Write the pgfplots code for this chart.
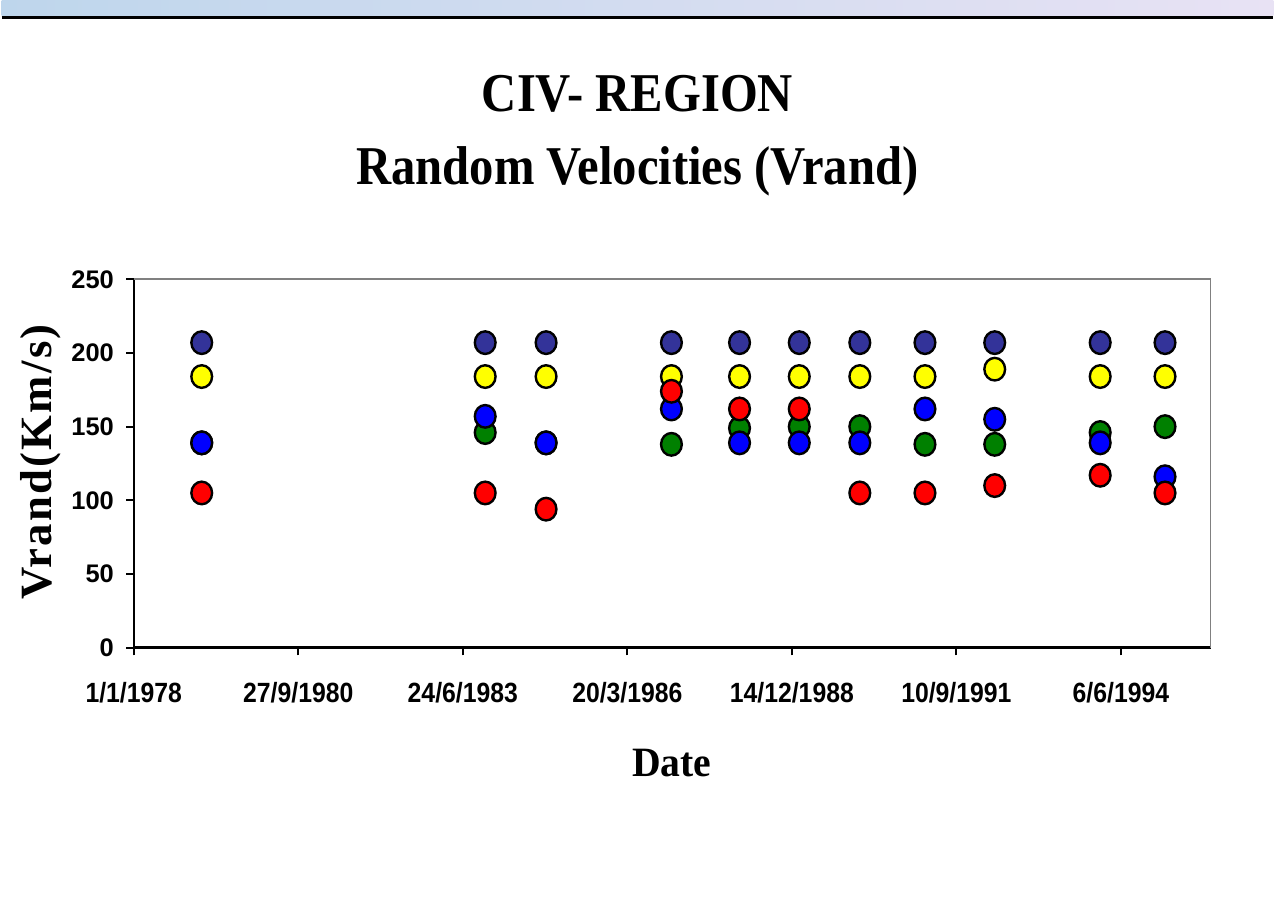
\documentclass[border=0pt]{standalone}
\usepackage{fontspec}
\setmainfont{Liberation Serif}
\newfontfamily\tickfont{Liberation Sans}
\newfontfamily\labfont{Liberation Serif}[LetterSpace=5]
\usepackage{pgfplots}
\pgfplotsset{compat=1.18}
\definecolor{navy}{HTML}{333399}
\definecolor{yel}{HTML}{FFFF00}
\definecolor{grn}{HTML}{008000}
\definecolor{blu}{HTML}{0000FF}
\definecolor{rd}{HTML}{FF0000}
\definecolor{bandL}{HTML}{BED6EC}
\definecolor{bandR}{HTML}{E8E2F4}
\definecolor{frame}{HTML}{808080}

\pgfplotstableread{
x y
413 207
2136 207
2506 207
3268 207
3682 207
4045 207
4413 207
4809 207
5233 207
5874 207
6268 207
}\navydata
\pgfplotstableread{
x y
413 184
2136 184
2506 184
3268 184
3682 184
4045 184
4413 184
4809 184
5233 189
5874 184
6268 184
}\yeldata
\pgfplotstableread{
x y
413 139
2136 146
2506 139
3268 138
3682 149
4045 150
4413 150
4809 138
5233 138
5874 146
6268 150
}\grndata
\pgfplotstableread{
x y
413 139
2136 157
2506 139
3268 162
3682 139
4045 139
4413 139
4809 162
5233 155
5874 139
6268 116
}\bludata
\pgfplotstableread{
x y
413 105
2136 105
2506 94
3268 174
3682 162
4045 162
4413 105
4809 105
5233 110
5874 117
6268 105
}\rddata

\begin{document}
\begin{tikzpicture}
\path (0,0) rectangle (637.5bp,452bp);
\shade[left color=bandL, right color=bandR] (0,444.3bp) rectangle (637.5bp,452bp);
\draw[line width=1.6bp, black] (0,443.3bp) -- (637.5bp,443.3bp);
\node[font=\fontsize{27.5}{30}\selectfont\bfseries, xscale=0.89, anchor=base, inner sep=0pt] at (318.75bp,396.2bp) {CIV- REGION};
\node[font=\fontsize{27.5}{30}\selectfont\bfseries, xscale=0.89, anchor=base, inner sep=0pt] at (318.75bp,359.5bp) {Random Velocities (Vrand)};
\node[font=\labfont\fontsize{22.5}{24}\selectfont\bfseries, rotate=90, anchor=base, inner sep=0pt] at (25bp,220.5bp) {Vrand(Km/s)};
\node[font=\fontsize{21}{23}\selectfont\bfseries, xscale=0.95, anchor=base, inner sep=0pt] at (336bp,62.9bp) {Date};
\begin{axis}[
  at={(66.25bp,127.35bp)}, anchor=south west,
  scale only axis, width=539.75bp, height=184.65bp,
  xmin=0, xmax=6545, ymin=0, ymax=250,
  axis x line*=bottom, axis y line*=left,
  axis line style={line width=1.2bp, black},
  xtick={0,1000,2000,3000,4000,5000,6000},
  xticklabels={1/1/1978,27/9/1980,24/6/1983,20/3/1986,14/12/1988,10/9/1991,6/6/1994},
  ytick={0,50,100,150,200,250},
  tick align=outside, major tick length=3.8bp,
  tick style={line width=1bp, black},
  xticklabel style={font=\tickfont\fontsize{14}{14}\selectfont\bfseries, xscale=0.89, anchor=base, inner sep=0pt, yshift=-23.5bp},
  yticklabel style={font=\tickfont\fontsize{12.8}{13}\selectfont\bfseries, anchor=east, inner sep=0pt, xshift=-6bp},
  /pgf/number format/assume math mode=true,
  clip=false,
]
\draw[frame, line width=0.8bp] (rel axis cs:0,1) -- (rel axis cs:1,1) -- (rel axis cs:1,0);
\addplot[only marks, mark=*, mark size=5.2bp, mark options={fill=navy, draw=black, line width=1.2bp, yscale=1.09}] table {\navydata};
\addplot[only marks, mark=*, mark size=5.2bp, mark options={fill=yel, draw=black, line width=1.2bp, yscale=1.09}] table {\yeldata};
\addplot[only marks, mark=*, mark size=5.2bp, mark options={fill=grn, draw=black, line width=1.2bp, yscale=1.09}] table {\grndata};
\addplot[only marks, mark=*, mark size=5.2bp, mark options={fill=blu, draw=black, line width=1.2bp, yscale=1.09}] table {\bludata};
\addplot[only marks, mark=*, mark size=5.2bp, mark options={fill=rd, draw=black, line width=1.2bp, yscale=1.09}] table {\rddata};
\end{axis}
\end{tikzpicture}
\end{document}
